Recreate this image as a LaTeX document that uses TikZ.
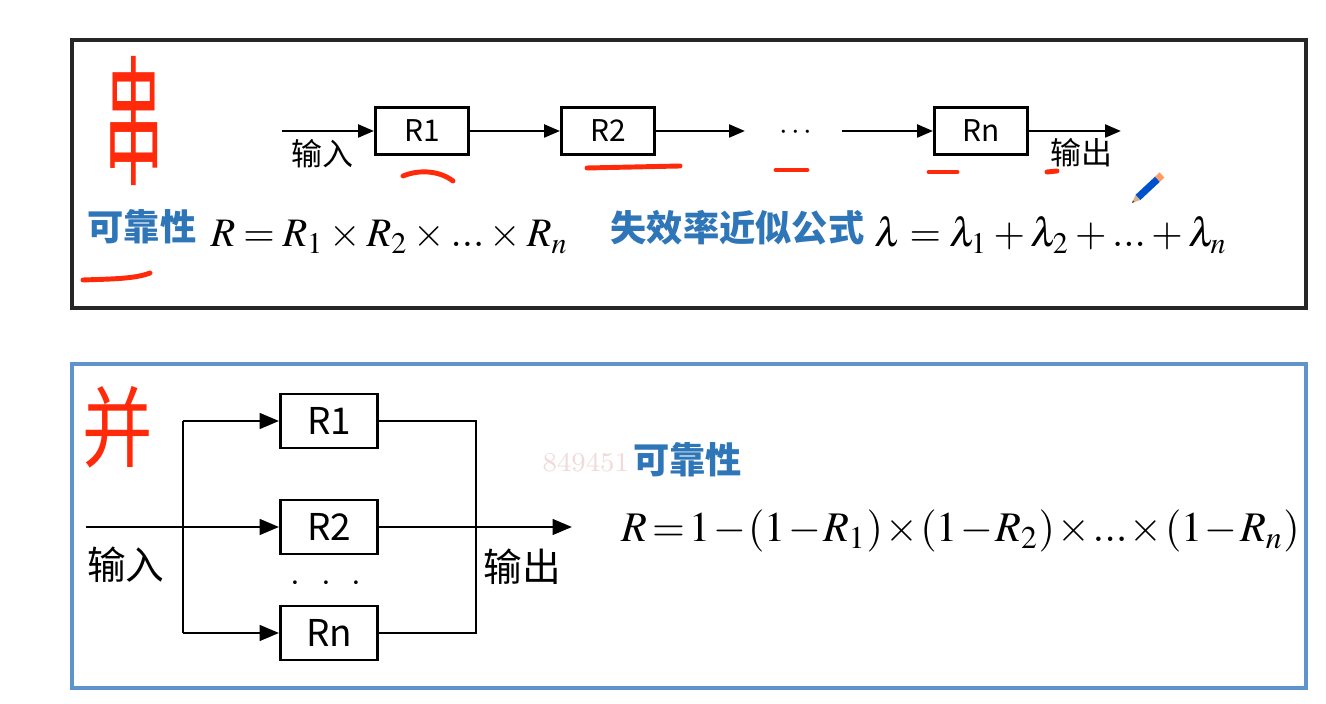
\documentclass[tikz,border=0pt]{standalone}
\usepackage{mathptmx}
\usepackage{fontspec}
\newfontfamily\cjk{Noto Sans CJK SC}
\usetikzlibrary{arrows.meta}

\definecolor{frameblue}{HTML}{5E93CC}
\definecolor{textblue}{HTML}{2F76B8}
\definecolor{penred}{HTML}{FF2A0A}
\definecolor{markpink}{HTML}{F0DADA}

\newcommand{\looseskips}{\medmuskip=2.5mu\relax\thickmuskip=3.5mu\relax}
\newcommand{\tightskips}{\medmuskip=1mu\relax\thickmuskip=2mu\relax}

\begin{document}
\begin{tikzpicture}[x=0.01cm,y=-0.01cm,
  box/.style={draw,line width=0.8pt,minimum width=0.93cm,minimum height=0.47cm,
              inner sep=0pt,font=\cjk\fontsize{8.5}{8.5}\selectfont},
  pbox/.style={box,minimum width=0.97cm,minimum height=0.54cm,
               font=\cjk\fontsize{10.5}{10.5}\selectfont},
  flow/.style={-{Triangle[length=4.5pt,width=3.6pt]},line width=0.8pt},
  pflow/.style={-{Triangle[length=5.5pt,width=4.4pt]},line width=0.8pt},
  wire/.style={line width=0.8pt},
  lbl/.style={font=\cjk\fontsize{8.8}{8.8}\selectfont},
  plbl/.style={font=\cjk\fontsize{11}{11}\selectfont},
  keyword/.style={text=textblue,inner sep=0pt,font=\cjk\bfseries\fontsize{10.3}{10.3}\selectfont},
  formula/.style={inner sep=0pt,font=\fontsize{11.5}{11.5}\selectfont\looseskips},
  tight/.style={inner sep=0pt,font=\fontsize{12}{12}\selectfont\tightskips},
  ink/.style={penred,line width=1.4pt,line cap=round}
]

  % -------- PAGE --------
  \fill[white] (0,0) rectangle (1326,704);
  \useasboundingbox (0,0) rectangle (1326,704);

  % Frames
  \draw[line width=1.1pt,black!85] (72,40) rectangle (1306,308);
  \draw[line width=1.1pt,frameblue] (72,364) rectangle (1306,688);

  % ---------- Series system ----------
  \node[box] (r1) at (422,131) {R1};
  \node[box] (r2) at (608,131) {R2};
  \node[box] (rn) at (981,131) {Rn};
  \node[lbl] (sdots) at (796,133) {$\cdots$};

  \coordinate (sin)  at (282,131);
  \coordinate (sout) at (1121,131);
  \coordinate (s2end)   at (745,131);
  \coordinate (snstart) at (842,131);

  \draw[flow] (sin) -- (r1);
  \draw[flow] (r1) -- (r2);
  \draw[flow] (r2) -- (s2end);
  \draw[flow] (snstart) -- (rn);
  \draw[flow] (rn) -- (sout);

  \node[lbl] (sinlbl)  at (322,154) {输入};
  \node[lbl] (soutlbl) at (1081,153) {输出};

  % Formulas
  \node[keyword,anchor=base west] (srel) at (87,241) {可靠性};
  \node[formula,anchor=base west] (sform) at (210,247)
       {$R=R_1\times R_2\times{...}\times R_n$};
  \node[keyword,anchor=base west] (sfail) at (610,242) {失效率近似公式};
  \node[formula,anchor=base west] (lform) at (874,247)
       {$\lambda=\lambda_1+\lambda_2+{...}+\lambda_n$};

  % ---------- Parallel system ----------
  \foreach \n/\y in {1/421,2/527,n/633} {
      \node[pbox] (p\n) at (329,\y) {R\n};
  }
  \node (pdots) at (326,584) {$\cdot$\hspace{6pt}$\cdot$\hspace{6pt}$\cdot$};

  \coordinate (pin)    at (86,527);
  \coordinate (split1) at (183,421);
  \coordinate (splitn) at (183,633);
  \coordinate (join1)  at (476,421);
  \coordinate (joinn)  at (476,633);
  \coordinate (pout)   at (572,527);

  \draw[wire] (split1) -- (splitn);
  \draw[pflow] (pin) -- (p2);
  \draw[pflow] (split1) -- (p1);
  \draw[pflow] (splitn) -- (pn);
  \draw[wire] (p1) -- (join1) -- (joinn) -- (pn);
  \draw[pflow] (p2) -- (pout);

  \node[plbl] (pinlbl)  at (126,565) {输入};
  \node[plbl] (poutlbl) at (522,567) {输出};

  % Watermark and formula
  \node[text=markpink,anchor=base west,inner sep=0pt,
        font=\fontsize{7.7}{7.7}\selectfont] (mark) at (542,472) {8494516};
  \node[keyword,anchor=base west,fill=white,inner sep=1pt] (prel) at (629,474) {可靠性};
  \node[tight,anchor=base west] (pform) at (621,542)
       {$R=1-(1-R_1)\times(1-R_2)\times{...}\times(1-R_n)$};

  % ---------- Red pen notes ----------
  \node[text=penred,inner sep=0pt] (chuan) at (134,121)
       {\scalebox{0.42}[1]{\cjk\fontsize{40}{40}\selectfont 串}};
  \node[text=penred,inner sep=0pt] (bing) at (118,427)
       {\scalebox{0.8}[1]{\cjk\fontsize{25}{25}\selectfont 并}};

  \draw[ink] (403,176) .. controls (420,169) and (440,171) .. (453,181);
  \draw[ink] (587,168) -- (680,166);
  \draw[ink] (776,170) -- (807,170);
  \draw[ink] (929,172) -- (957,172);
  \draw[ink] (1047,172) -- (1057,171);
  \draw[ink] (83,280) .. controls (110,279) and (135,279) .. (150,273);

  % Pen cursor
  \fill[brown!60] (1132,203) -- (1140.4,200) -- (1135.6,194.8) -- cycle;
  \fill[black!70] (1132,203) -- (1134.5,202) -- (1133,200.3) -- cycle;
  \fill[blue!60!cyan!80!black] (1140.4,200) -- (1159.9,181.8) -- (1155.1,176.6) -- (1135.6,194.8) -- cycle;
  \fill[orange!70!red!60] (1159.9,181.8) -- (1164.4,177.6) -- (1159.6,172.4) -- (1155.1,176.6) -- cycle;

\end{tikzpicture}
\end{document}
